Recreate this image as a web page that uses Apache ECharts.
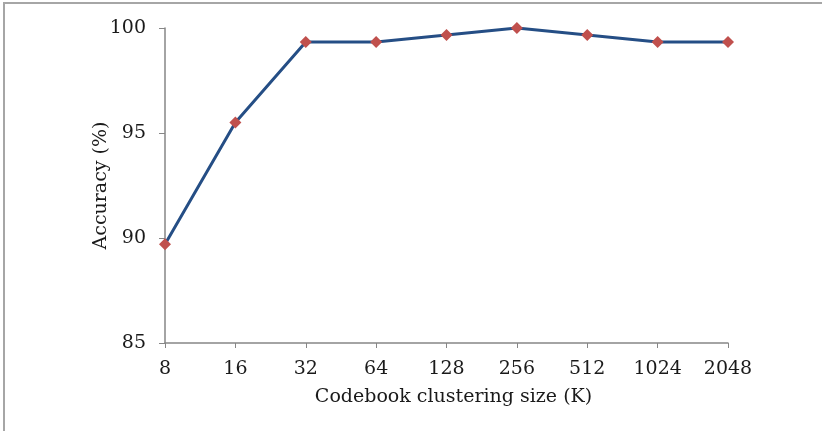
<!DOCTYPE html>
<html>
<head>
<meta charset="utf-8">
<script src="https://cdn.jsdelivr.net/npm/echarts@6/dist/echarts.min.js"></script>
<style>
  html, body { margin: 0; padding: 0; background: #fff; overflow: hidden; }
  #wrap { position: relative; width: 822px; height: 431px; }
  #chart { width: 822px; height: 431px; }
  #frame {
    position: absolute; left: 3px; top: 2px; width: 840px; height: 450px;
    border-top: 2px solid #a6a6a6; border-left: 2px solid #a6a6a6;
    pointer-events: none;
  }
</style>
</head>
<body>
<div id="wrap">
  <div id="chart"></div>
  <div id="frame"></div>
</div>
<script>
// Codebook clustering size (K) vs. recognition accuracy
const clusterSizes = ['8', '16', '32', '64', '128', '256', '512', '1024', '2048'];
const accuracy = [89.7, 95.5, 99.33, 99.33, 99.67, 100, 99.67, 99.33, 99.33];
const yTicks = [85, 90, 95, 100];

const FONT = 'DejaVu Serif';
const FS = 19;
const chart = echarts.init(document.getElementById('chart'), null, { renderer: 'canvas' });

chart.setOption({
  animation: false,
  backgroundColor: '#ffffff',
  grid: { left: 165, right: 94, top: 28, bottom: 88, containLabel: false },
  xAxis: {
    type: 'category',
    data: clusterSizes,
    boundaryGap: false,
    name: 'Codebook clustering size (K)',
    nameLocation: 'middle',
    nameGap: 45,
    nameMoveOverlap: false,
    nameTextStyle: { fontFamily: FONT, fontSize: FS, color: '#1a1a1a', padding: [0, 0, 0, 14] },
    axisLine: { lineStyle: { color: '#868686', width: 1.5 } },
    axisTick: { show: true, alignWithLabel: true, length: 5, lineStyle: { color: '#868686' } },
    axisLabel: { fontFamily: FONT, fontSize: FS, color: '#1a1a1a', margin: 17 },
    splitLine: { show: false }
  },
  yAxis: {
    type: 'value',
    min: yTicks[0],
    max: yTicks[yTicks.length - 1],
    interval: 5,
    name: 'Accuracy (%)',
    nameLocation: 'middle',
    nameGap: 54,
    nameMoveOverlap: false,
    nameTextStyle: { fontFamily: FONT, fontSize: FS, color: '#1a1a1a' },
    axisLine: { show: true, lineStyle: { color: '#868686', width: 1.5 } },
    axisTick: { show: true, length: 6, lineStyle: { color: '#868686' } },
    axisLabel: { fontFamily: FONT, fontSize: FS, color: '#1a1a1a', margin: 19 },
    splitLine: { show: false }
  },
  series: [{
    type: 'line',
    data: accuracy,
    symbol: 'diamond',
    symbolSize: 12,
    lineStyle: { color: '#254e85', width: 3 },
    itemStyle: { color: '#c0504d' },
    z: 3
  }]
});
</script>
</body>
</html>
